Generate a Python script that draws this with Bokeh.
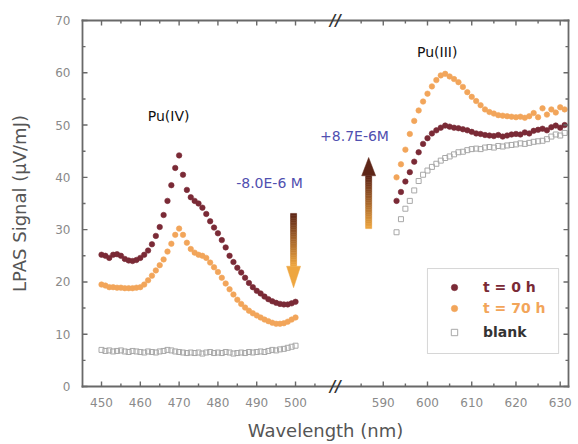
from bokeh.plotting import figure
from bokeh.models import (FixedTicker, CustomJSTickFormatter,
                          Range1d, Label, BoxAnnotation, Legend, LegendItem, ColumnDataSource)
from bokeh.embed import file_html
from bokeh.resources import INLINE

# ---------------- data ----------------
wl_left = list(range(450, 501))
t0_left = [25.2, 25.0, 24.6, 25.2, 25.3, 25.0, 24.4, 24.1, 24.0, 24.2,
           24.6, 25.2, 26.0, 27.2, 28.8, 30.5, 32.8, 35.5, 38.5, 41.8,
           44.2, 40.5, 37.6, 36.2, 35.5, 35.0, 34.2, 33.0, 31.6, 30.4,
           29.3, 28.0, 26.6, 25.0, 23.8, 22.7, 21.8, 20.8, 19.8, 19.0,
           18.3, 17.8, 17.2, 16.7, 16.3, 16.0, 15.8, 15.7, 15.7, 15.9, 16.2]
t70_left = [19.5, 19.3, 19.0, 19.0, 18.9, 18.9, 18.8, 18.8, 18.8, 18.9,
            19.0, 19.5, 20.3, 21.2, 22.2, 23.2, 24.3, 25.8, 27.3, 29.0,
            30.2, 29.0, 27.5, 26.3, 25.6, 25.2, 25.0, 24.6, 23.7, 22.8,
            21.9, 20.8, 19.7, 18.6, 17.6, 16.6, 15.8, 15.1, 14.5, 14.0,
            13.6, 13.2, 12.8, 12.5, 12.2, 12.0, 12.0, 12.1, 12.4, 12.8, 13.2]
blank_left = [7.0, 6.8, 6.9, 6.7, 6.8, 6.9, 6.7, 6.6, 6.8, 6.7,
              6.6, 6.5, 6.7, 6.6, 6.5, 6.7, 6.8, 7.0, 6.9, 6.7,
              6.6, 6.5, 6.4, 6.5, 6.4, 6.5, 6.3, 6.5, 6.6, 6.4,
              6.5, 6.4, 6.6, 6.5, 6.3, 6.4, 6.5, 6.4, 6.6, 6.5,
              6.6, 6.7, 6.6, 6.8, 7.0, 6.9, 7.1, 7.2, 7.4, 7.6, 7.8]

wl_right = list(range(593, 632))
t0_right = [35.5, 37.2, 39.2, 41.0, 43.0, 44.8, 46.4, 47.5, 48.4, 49.0,
            49.5, 49.9, 49.7, 49.5, 49.4, 49.2, 49.0, 48.7, 48.4, 48.3,
            48.1, 48.0, 47.9, 48.1, 47.8, 48.0, 48.2, 48.3, 48.2, 48.6,
            48.4, 48.9, 49.1, 49.3, 49.0, 49.6, 49.9, 49.5, 50.0]
t70_right = [40.0, 42.5, 45.3, 48.3, 50.8, 52.8, 54.5, 56.0, 57.4, 58.6,
             59.5, 59.8, 59.3, 58.8, 58.2, 57.3, 56.3, 55.4, 54.6, 53.8,
             53.0, 52.5, 52.2, 51.9, 51.8, 51.7, 51.6, 51.5, 51.6, 51.4,
             51.7, 52.3, 51.5, 53.2, 52.0, 53.0, 52.4, 53.4, 53.0]
blank_right = [29.5, 32.0, 34.0, 35.5, 37.5, 39.3, 40.5, 41.3, 42.0, 42.6,
               43.2, 43.7, 44.0, 44.4, 44.8, 44.9, 45.2, 45.4, 45.5, 45.4,
               45.7, 45.8, 45.7, 46.0, 45.9, 46.1, 46.2, 46.3, 46.5, 46.4,
               46.6, 46.8, 46.9, 47.0, 47.3, 47.8, 48.2, 48.0, 48.5]

x_major = [450, 460, 470, 480, 490, 500, 590, 600, 610, 620, 630]
x_minor = [455, 465, 475, 485, 495, 505, 585, 595, 605, 615, 625]
y_major = [0, 10, 20, 30, 40, 50, 60, 70]
y_minor = [5, 15, 25, 35, 45, 55, 65]
series_labels = ["t = 0 h", "t = 70 h", "blank"]

# ---------------- broken-axis mapping ----------------
BREAK_L = 510.3   # end of left segment (nm)
BREAK_R = 579.2   # start of right segment (nm)
K = 1.14          # right segment is stretched relative to left


def bx(w):
    return w if w <= BREAK_L else BREAK_L + (w - BREAK_R) * K


# drawn axis box (data units) and a small inset between it and the plot frame
XA0, XA1 = 445.1, 570.35
YA0, YA1 = 0, 70
PX = 3.88            # px per x unit
PY = 366 / 70        # px per y unit
M = 10               # px between the drawn axes and the frame edge

xs_all = [bx(w) for w in wl_left + wl_right]
src0 = ColumnDataSource(dict(x=xs_all, y=t0_left + t0_right))
src70 = ColumnDataSource(dict(x=xs_all, y=t70_left + t70_right))
srcb = ColumnDataSource(dict(x=xs_all, y=blank_left + blank_right))

FONT = "DejaVu Sans"
C0 = "#7a2a36"
C70 = "#f2a55a"
CB = "#a8a8a8"
AX = "dimgray"

W, H = 578, 444
p = figure(width=W, height=H, output_backend="svg", toolbar_location=None,
           x_range=Range1d(XA0 - M / PX, XA1 + M / PX),
           y_range=Range1d(YA0 - M / PY, YA1 + M / PY),
           min_border_left=72, min_border_right=0, min_border_top=10, min_border_bottom=48)
p.xgrid.visible = False
p.ygrid.visible = False
p.outline_line_color = None

# ---------------- data glyphs ----------------
rb = p.scatter("x", "y", source=srcb, marker="square", size=5, fill_color=None,
               line_color=CB, line_width=1)
r70 = p.scatter("x", "y", source=src70, marker="circle", size=5.5, fill_color=C70,
                line_color=C70, line_alpha=0.6)
r0 = p.scatter("x", "y", source=src0, marker="circle", size=5.5, fill_color=C0,
               line_color=C0, line_alpha=0.6)

# ---------------- axes: labels from Bokeh, frame and ticks as filled strips ----------------
fmt = CustomJSTickFormatter(args=dict(b=BREAK_L, r=BREAK_R, k=K), code="""
const w = tick > b ? r + (tick - b) / k : tick;
return Math.round(w).toString();
""")


def style_axis(ax):
    ax.axis_line_color = None
    ax.major_tick_line_color = None
    ax.minor_tick_line_color = None
    ax.major_tick_in = 0
    ax.major_tick_out = 0
    ax.major_label_text_font = FONT
    ax.major_label_text_font_size = "12px"
    ax.major_label_text_color = "#8a8a8a"
    ax.axis_label_text_font = FONT
    ax.axis_label_text_font_size = "18px"
    ax.axis_label_text_font_style = "normal"
    ax.axis_label_text_color = "#555555"


xb = p.xaxis[0]
xb.ticker = FixedTicker(ticks=[bx(w) for w in x_major])
xb.formatter = fmt
xb.axis_label = "Wavelength (nm)"
style_axis(xb)
xb.major_label_standoff = 1
xb.axis_label_standoff = 10

yl = p.yaxis[0]
yl.ticker = FixedTicker(ticks=y_major)
yl.axis_label = "LPAS Signal (μV/mJ)"
style_axis(yl)
yl.major_label_standoff = 2
yl.axis_label_standoff = 22

# frame: four thin filled strips
hw = 0.9  # half width in px
fx, fy = hw / PX, hw / PY
p.quad(left=[XA0 - fx, XA1 - fx, XA0 - fx, XA0 - fx],
       right=[XA0 + fx, XA1 + fx, XA1 + fx, XA1 + fx],
       bottom=[YA0 - fy, YA0 - fy, YA0 - fy, YA1 - fy],
       top=[YA1 + fy, YA1 + fy, YA0 + fy, YA1 + fy],
       fill_color=AX, line_color=None)

# inward ticks on all four sides, also as thin filled strips
tw = 0.7
tx = [bx(w) for w in x_major] + [bx(w) for w in x_minor]
tlx = [5 / PY] * len(x_major) + [3 / PY] * len(x_minor)
p.quad(left=[x - tw / PX for x in tx] * 2, right=[x + tw / PX for x in tx] * 2,
       bottom=[YA0] * len(tx) + [YA1 - t for t in tlx],
       top=[YA0 + t for t in tlx] + [YA1] * len(tx),
       fill_color=AX, line_color=None)
ty = y_major + y_minor
tly = [5 / PX] * len(y_major) + [3 / PX] * len(y_minor)
p.quad(left=[XA0] * len(ty) + [XA1 - t for t in tly],
       right=[XA0 + t for t in tly] + [XA1] * len(ty),
       bottom=[y - tw / PY for y in ty] * 2, top=[y + tw / PY for y in ty] * 2,
       fill_color=AX, line_color=None)

# axis-break marks
for yy in (YA0, YA1):
    p.add_layout(Label(x=BREAK_L, y=yy, text="//", text_align="center", text_baseline="middle",
                       text_font=FONT, text_font_size="15px", text_font_style="bold italic",
                       text_color="#333333"))

# ---------------- annotations ----------------
p.add_layout(Label(x=467.3, y=51.8, text="Pu(IV)", text_align="center", text_baseline="middle",
                   text_font=FONT, text_font_size="14px", text_color="#111111"))
p.add_layout(Label(x=bx(602.2), y=63.9, text="Pu(III)", text_align="center", text_baseline="middle",
                   text_font=FONT, text_font_size="14px", text_color="#111111"))
p.add_layout(Label(x=493.3, y=38.9, text="-8.0E-6 M", text_align="center", text_baseline="middle",
                   text_font=FONT, text_font_size="14px", text_color="#5050b0"))
p.add_layout(Label(x=bx(583.5), y=48.0, text="+8.7E-6M", text_align="center", text_baseline="middle",
                   text_font=FONT, text_font_size="14px", text_color="#5050b0"))


def mix(c1, c2, t):
    a = [int(c1[i:i + 2], 16) for i in (1, 3, 5)]
    b = [int(c2[i:i + 2], 16) for i in (1, 3, 5)]
    return "#%02x%02x%02x" % tuple(int(round(a[j] + (b[j] - a[j]) * t)) for j in range(3))


DARK = "#5e2618"
ORNG = "#eea640"


def grad_arrow(xc, y_tail, y_base, y_tip, shaft_w=1.55, head_w=3.6, n=30):
    # shaft made of thin slices, dark at the top, orange at the bottom
    top = max(y_tail, y_base)
    bot = min(y_tail, y_base)
    h = (top - bot) / n
    tops = [top - i * h for i in range(n)]
    bots = [top - (i + 1) * h for i in range(n)]
    cols = [mix(DARK, ORNG, (i + 0.5) / n) for i in range(n)]
    p.quad(left=xc - shaft_w / 2, right=xc + shaft_w / 2, top=tops, bottom=bots,
           fill_color=cols, line_color=cols, line_width=0.6)
    head_col = ORNG if y_tip < y_base else DARK
    p.patch([xc - head_w / 2, xc + head_w / 2, xc], [y_base, y_base, y_tip],
            fill_color=head_col, line_color=head_col, line_width=0.5)


grad_arrow(499.5, 33.1, 23.0, 18.9)          # down arrow
grad_arrow(bx(586.7), 30.2, 40.3, 43.8)       # up arrow

# ---------------- legend ----------------
p.add_layout(BoxAnnotation(left=534.0, right=567.8, top=22.56, bottom=6.31,
                           fill_alpha=0, line_color="#777777", line_width=1))
for rend, lab, col, vy in ((r0, series_labels[0], C0, 101),
                           (r70, series_labels[1], C70, 80),
                           (rb, series_labels[2], "#333333", 56)):
    lg = Legend(items=[LegendItem(label=lab, renderers=[rend])], location=(374, vy),
                padding=0, margin=0, spacing=0, glyph_width=16, glyph_height=16,
                label_height=16, label_standoff=21, label_text_font=FONT,
                label_text_font_style="bold", label_text_font_size="14px",
                label_text_color=col, background_fill_alpha=0, border_line_color=None)
    p.add_layout(lg, "center")

open("out.html", "w").write(file_html(p, INLINE))
